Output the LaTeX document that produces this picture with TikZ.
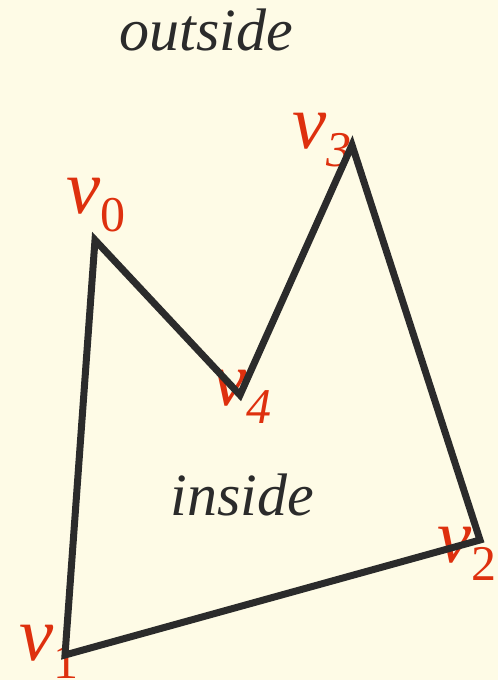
\documentclass[tikz,border=0pt]{standalone}
\usepackage{fontspec}
\setmainfont{Liberation Serif}
\usepackage{tikz}
\usetikzlibrary{positioning}
\definecolor{PaperCream}{RGB}{254,251,230}
\definecolor{LabelRed}{RGB}{222,48,14}
\definecolor{EdgeGray}{RGB}{43,43,43}
\newcommand{\vname}[2]{\fontsize{77}{77}\selectfont\itshape v\raisebox{-18pt}{\fontsize{50}{50}\selectfont #2#1}}

\begin{document}
\begin{tikzpicture}[x=1pt,y=-1pt]
      \fill[PaperCream] (0,0) rectangle (498,680);
      \useasboundingbox (0,0) rectangle (498,680);
      % corners
      \coordinate (v0) at (95,240);
      \coordinate (v1) at (65,655);
      \coordinate (v2) at (480,540);
      \coordinate (v3) at (352,145);
      \coordinate (v4) at (240,395);
      \tikzset{vlabel/.style={anchor=base west,inner sep=0pt,text=LabelRed},
        region/.style={anchor=base,inner sep=0pt,text=EdgeGray,
          font=\fontsize{60}{60}\selectfont\itshape}}
      \node[region] (outside) at (206,50) {outside};
      \node[region] (inside) at (242,515) {inside};
      \node[vlabel] (l0) at (66,213) {\vname{0}{\upshape}};
      \node[vlabel] (l1) at (19,660) {\vname{1}{\upshape}};
      \node[vlabel] (l2) at (437,562) {\vname{2}{\upshape}};
      \node[vlabel] (l3) at (292,148) {\vname{3}{}};
      \node[vlabel] (l4) at (212,405) {\vname{4}{}};
      \draw[EdgeGray,line width=7pt] (v0) -- (v1) -- (v2) -- (v3) -- (v4) -- cycle;
    \end{tikzpicture}
\end{document}
